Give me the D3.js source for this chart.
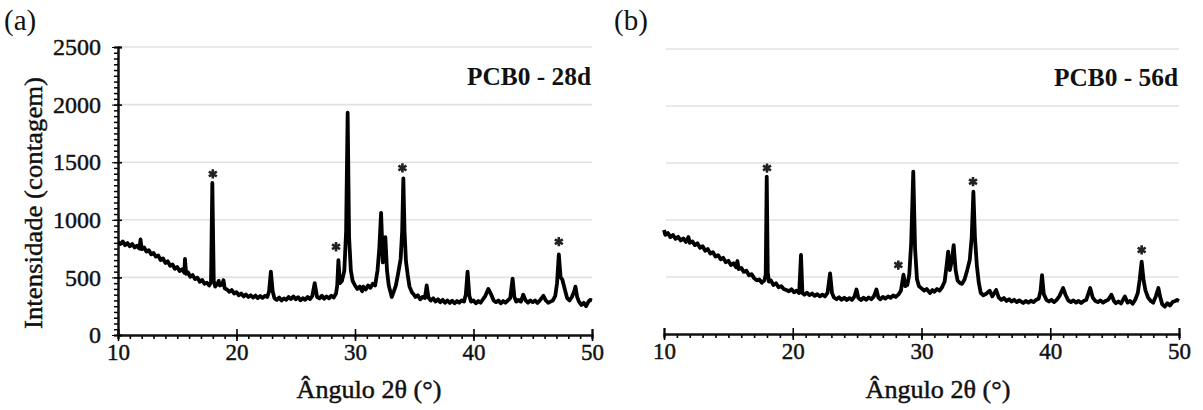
<!DOCTYPE html>
<html>
<head>
<meta charset="utf-8">
<script src="https://cdn.jsdelivr.net/npm/d3@7"></script>
<style>
  body { margin: 0; background: #fff; }
</style>
</head>
<body>
<div id="chart"></div>
<script>
// tick values
const xTicks = [10, 20, 30, 40, 50];
const yTicks = [0, 500, 1000, 1500, 2000, 2500];
const gridTicks = [500, 1000, 1500, 2000, 2500];

// PCB0 - 28d : [2theta, counts]
const pattern28 = [
  [10.0,805],[10.2,790],[10.4,812],[10.6,780],[10.8,798],[11.0,770],[11.2,790],[11.4,760],[11.6,775],[11.8,750],
  [11.9,830],[12.0,745],[12.2,760],[12.4,725],[12.6,735],[12.8,700],[13.0,712],[13.2,680],[13.4,690],[13.6,650],
  [13.8,665],[14.0,625],[14.2,640],[14.4,600],[14.6,612],[14.8,575],[15.0,590],[15.2,555],[15.4,570],[15.6,540],
  [15.65,660],[15.75,530],[15.9,545],[16.1,505],[16.3,520],[16.5,485],[16.7,498],[16.9,462],[17.1,478],[17.3,445],
  [17.5,455],[17.7,430],[17.85,460],[17.96,1320],[18.08,470],[18.2,420],[18.4,445],[18.5,470],[18.6,430],[18.8,440],
  [18.9,475],[19.0,405],[19.2,395],[19.4,375],[19.6,390],[19.8,360],[20.0,372],[20.2,345],[20.4,360],[20.6,335],
  [20.8,352],[21.0,330],[21.2,345],[21.4,325],[21.6,342],[21.8,320],[22.0,338],[22.2,322],[22.4,340],[22.6,330],
  [22.75,380],[22.9,550],[23.05,380],[23.2,320],[23.4,305],[23.6,325],[23.8,300],[24.0,318],[24.2,305],[24.4,330],
  [24.6,312],[24.8,335],[25.0,310],[25.2,328],[25.4,302],[25.6,320],[25.8,305],[26.0,330],[26.2,312],[26.4,340],
  [26.6,450],[26.8,330],[27.0,318],[27.2,340],[27.4,315],[27.6,335],[27.8,318],[28.0,340],[28.2,325],[28.4,360],
  [28.5,430],[28.6,650],[28.72,450],[28.9,470],[29.1,560],[29.25,900],[29.38,1930],[29.5,850],[29.65,560],[29.8,470],
  [30.0,430],[30.2,400],[30.4,420],[30.6,380],[30.7,420],[30.9,395],[31.1,430],[31.3,410],[31.5,445],[31.7,430],
  [31.9,560],[32.05,750],[32.2,1060],[32.35,630],[32.45,700],[32.56,850],[32.7,560],[32.85,430],[33.0,370],[33.1,330],
  [33.25,370],[33.45,430],[33.65,540],[33.85,660],[33.98,900],[34.08,1360],[34.18,900],[34.3,640],[34.45,520],[34.6,420],
  [34.8,370],[34.9,360],[35.1,330],[35.3,345],[35.5,310],[35.7,330],[35.9,320],[36.05,430],[36.2,325],[36.4,300],
  [36.6,318],[36.8,290],[37.0,310],[37.2,285],[37.4,305],[37.6,280],[37.8,300],[38.0,278],[38.2,298],[38.4,275],
  [38.6,295],[38.8,280],[39.0,300],[39.2,290],[39.35,350],[39.5,550],[39.65,340],[39.8,290],[40.0,300],[40.2,275],
  [40.4,295],[40.6,280],[40.8,310],[41.0,340],[41.25,400],[41.5,350],[41.7,300],[41.9,285],[42.1,300],[42.3,275],
  [42.5,295],[42.7,280],[42.9,300],[43.1,320],[43.3,490],[43.45,330],[43.6,290],[43.8,305],[44.0,290],[44.2,350],
  [44.4,300],[44.6,280],[44.8,300],[45.0,285],[45.2,300],[45.4,278],[45.6,300],[45.9,340],[46.1,300],[46.3,280],
  [46.5,290],[46.7,300],[46.9,340],[47.05,450],[47.2,700],[47.35,500],[47.5,480],[47.7,400],[47.9,320],[48.1,300],
  [48.3,330],[48.5,380],[48.6,420],[48.75,330],[48.9,290],[49.1,260],[49.3,280],[49.5,250],[49.7,290],[49.85,305],
  [50.0,300]
];

// PCB0 - 56d : [2theta, counts]
const pattern56 = [
  [10.0,912],[10.1,870],[10.3,885],[10.5,850],[10.7,868],[10.9,835],[11.1,852],[11.3,820],[11.5,838],[11.7,808],
  [11.9,850],[12.0,800],[12.2,812],[12.4,780],[12.6,795],[12.8,755],[13.0,770],[13.2,730],[13.4,745],[13.6,705],
  [13.8,718],[14.0,680],[14.2,692],[14.4,655],[14.6,668],[14.8,630],[15.0,642],[15.2,605],[15.4,620],[15.6,585],
  [15.7,640],[15.8,570],[16.0,580],[16.2,545],[16.4,556],[16.6,515],[16.8,525],[17.0,490],[17.2,470],[17.4,478],
  [17.6,450],[17.8,470],[17.9,520],[17.98,1380],[18.06,540],[18.15,460],[18.3,470],[18.5,430],[18.7,445],[18.9,410],
  [19.1,420],[19.3,395],[19.5,386],[19.7,375],[19.9,392],[20.1,365],[20.3,380],[20.5,360],[20.64,693],[20.75,360],
  [20.9,345],[21.1,362],[21.3,340],[21.5,355],[21.7,335],[21.9,350],[22.1,330],[22.3,345],[22.5,330],[22.7,360],
  [22.9,532],[23.05,360],[23.2,320],[23.4,305],[23.6,322],[23.8,300],[24.0,318],[24.2,298],[24.4,315],[24.6,300],
  [24.8,330],[24.95,390],[25.1,315],[25.3,298],[25.5,318],[25.7,300],[25.9,320],[26.1,305],[26.3,330],[26.5,390],
  [26.65,320],[26.8,305],[27.0,325],[27.2,310],[27.4,330],[27.6,318],[27.8,338],[28.0,325],[28.2,345],[28.4,380],
  [28.6,520],[28.75,420],[28.9,430],[29.05,520],[29.2,800],[29.36,1424],[29.5,750],[29.65,480],[29.8,420],[30.0,400],
  [30.2,380],[30.4,395],[30.66,360],[30.85,385],[31.0,370],[31.2,395],[31.4,380],[31.6,410],[31.8,460],[31.95,600],
  [32.07,722],[32.2,560],[32.35,640],[32.5,780],[32.65,560],[32.8,470],[33.0,445],[33.15,440],[33.35,480],[33.55,560],
  [33.75,650],[33.9,850],[34.03,1248],[34.15,850],[34.3,600],[34.45,450],[34.6,360],[34.8,340],[35.0,350],[35.3,380],
  [35.5,330],[35.8,386],[36.0,320],[36.2,300],[36.4,315],[36.6,290],[36.8,305],[37.0,285],[37.2,300],[37.4,280],
  [37.6,295],[37.9,272],[38.1,290],[38.3,275],[38.5,292],[38.7,280],[38.9,300],[39.1,310],[39.25,380],[39.36,517],
  [39.5,350],[39.7,300],[39.9,285],[40.1,300],[40.3,280],[40.5,300],[40.7,330],[41.0,403],[41.2,340],[41.4,295],
  [41.6,280],[41.8,295],[42.0,275],[42.2,290],[42.4,272],[42.6,290],[42.8,300],[43.1,403],[43.3,320],[43.5,290],
  [43.7,280],[43.9,295],[44.1,275],[44.3,290],[44.5,300],[44.75,345],[44.95,290],[45.1,270],[45.3,285],[45.5,268],
  [45.8,330],[46.0,275],[46.2,290],[46.4,265],[46.6,300],[46.8,360],[46.95,480],[47.1,634],[47.25,470],[47.4,380],
  [47.6,320],[47.8,290],[48.0,275],[48.2,330],[48.4,403],[48.55,320],[48.7,260],[48.9,240],[49.1,270],[49.3,250],
  [49.5,280],[49.7,290],[49.85,298],[50.0,290]
];

// asterisk markers
const stars28 = [[18.0,1398],[28.4,766],[34.0,1450],[47.2,810]];
const stars56 = [[18.0,1456],[28.2,605],[34.0,1336],[47.1,737]];

const panelLetters = ["(a)", "(b)"];
const sampleNames = ["PCB0 - 28d", "PCB0 - 56d"];
const xTitle = "Ângulo 2θ (°)";
const yTitle = "Intensidade (contagem)";

const serif = "Liberation Serif";
const ink = "#111";
const width = 1203, height = 410;
const svg = d3.select("#chart").append("svg")
  .attr("width", width).attr("height", height)
  .attr("viewBox", [0, 0, width, height])
  .attr("font-family", serif);

// slightly heavier text, like the scanned original
function inked(sel) {
  sel.attr("font-family", serif).attr("fill", ink)
    .attr("stroke", ink).attr("stroke-width", 0.45);
}

function drawPanel(p) {
  const x = d3.scaleLinear().domain([10, 50]).range(p.xr);
  const y = d3.scaleLinear().domain([0, 2500]).range(p.yr);
  const g = svg.append("g");

  // gridlines
  g.append("g")
    .selectAll("line")
    .data(gridTicks)
    .join("line")
    .attr("x1", p.xr[0] + 2).attr("x2", p.xr[1])
    .attr("y1", d => y(d)).attr("y2", d => y(d))
    .attr("stroke", "#e2e2e2")
    .attr("stroke-width", 1.6);

  // x axis: majors crossing, minors below
  const xa = g.append("g").attr("transform", `translate(0,${p.yr[0]})`);
  xa.append("g")
    .call(d3.axisBottom(x).tickValues(d3.range(10, 51, 1)).tickSize(4).tickFormat(""))
    .call(a => a.selectAll("line").attr("stroke-width", 1.6));
  xa.append("g")
    .call(d3.axisTop(x).tickValues(xTicks).tickSize(6).tickFormat(""))
    .call(a => a.selectAll("line").attr("stroke-width", 1.6));
  xa.append("g")
    .call(d3.axisBottom(x).tickValues(xTicks).tickSize(6).tickFormat(d3.format("d")))
    .call(a => a.select(".domain").remove())
    .call(a => a.selectAll("line").attr("stroke-width", 1.6))
    .call(a => a.selectAll("text")
      .attr("font-size", 23).attr("y", 7).attr("dy", "0.8em").call(inked));
  xa.selectAll(".domain").attr("stroke-width", 2).attr("stroke", ink);

  if (p.yAxis) {
    const ya = g.append("g").attr("transform", `translate(${p.xr[0]},0)`);
    ya.append("g")
      .call(d3.axisLeft(y).tickValues(d3.range(0, 2501, 50)).tickSize(4).tickFormat(""))
      .call(a => a.selectAll("line").attr("stroke-width", 1.5));
    ya.append("g")
      .call(d3.axisRight(y).tickValues(yTicks).tickSize(4).tickFormat(""))
      .call(a => a.selectAll("line").attr("stroke-width", 1.6));
    ya.append("g")
      .call(d3.axisLeft(y).tickValues(yTicks).tickSize(6).tickFormat(d3.format("d")))
      .call(a => a.select(".domain").remove())
      .call(a => a.selectAll("text").attr("font-size", 24).attr("x", -17).call(inked));
    ya.selectAll(".domain").attr("stroke-width", 2).attr("stroke", ink);

    svg.append("text")
      .attr("transform", `translate(42,${(p.yr[0] + p.yr[1]) / 2 + 12}) rotate(-90)`)
      .attr("text-anchor", "middle")
      .attr("font-size", 26)
      .attr("textLength", 252).attr("lengthAdjust", "spacingAndGlyphs")
      .call(inked)
      .text(yTitle);
  }

  // trace
  const line = d3.line().x(d => x(d[0])).y(d => y(d[1]));
  g.append("path")
    .datum(p.data)
    .attr("fill", "none")
    .attr("stroke", "#000")
    .attr("stroke-width", 3.8)
    .attr("stroke-linejoin", "round")
    .attr("d", line);

  // asterisks
  g.append("g")
    .selectAll("path")
    .data(p.stars)
    .join("path")
    .attr("transform", d => `translate(${x(d[0])},${y(d[1])})`)
    .attr("d", d3.symbol(d3.symbolAsterisk, 60))
    .attr("stroke", "#222")
    .attr("stroke-width", 2.6);

  // sample name
  g.append("text")
    .attr("x", p.xr[1] - 1).attr("y", p.nameY)
    .attr("text-anchor", "end")
    .attr("font-size", 25).attr("font-weight", "bold")
    .attr("textLength", 124).attr("lengthAdjust", "spacingAndGlyphs")
    .attr("font-family", serif).attr("fill", ink)
    .text(p.name);

  // x title
  g.append("text")
    .attr("x", p.titleX).attr("y", 398)
    .attr("text-anchor", "middle")
    .attr("font-size", 25)
    .attr("textLength", 145).attr("lengthAdjust", "spacingAndGlyphs")
    .call(inked)
    .text(xTitle);

  // panel letter
  svg.append("text")
    .attr("x", p.letterX).attr("y", 30)
    .attr("font-size", 29)
    .attr("font-family", serif).attr("fill", ink)
    .text(p.letter);
}

drawPanel({ xr: [118, 592], yr: [335, 47], data: pattern28, stars: stars28, yAxis: true,
  name: sampleNames[0], nameY: 85, titleX: 369, letterX: 4, letter: panelLetters[0] });
drawPanel({ xr: [664, 1179], yr: [334, 49], data: pattern56, stars: stars56, yAxis: false,
  name: sampleNames[1], nameY: 86, titleX: 938, letterX: 614, letter: panelLetters[1] });
</script>
</body>
</html>
